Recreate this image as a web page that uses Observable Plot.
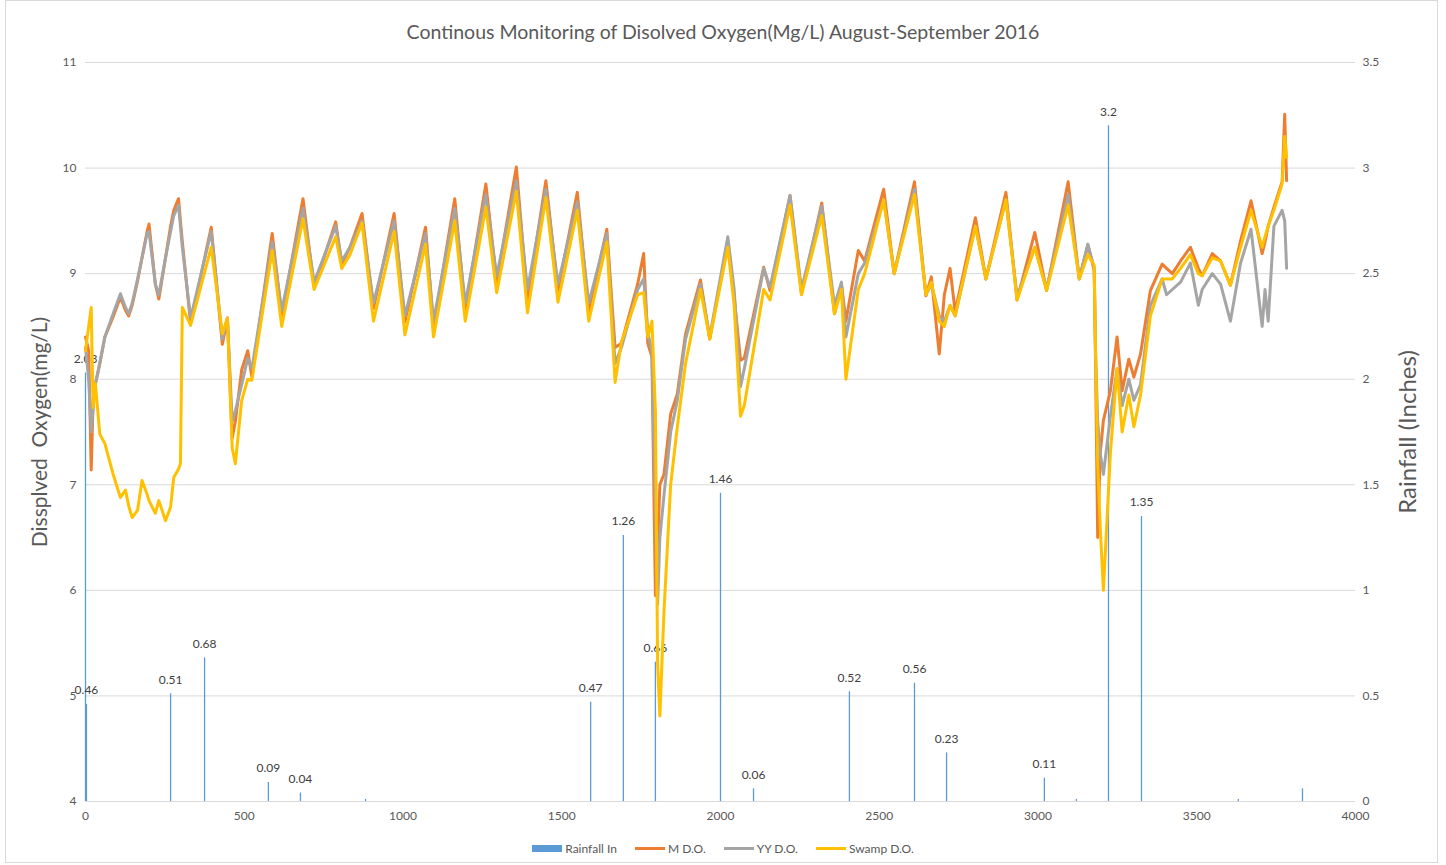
<!DOCTYPE html>
<html><head><meta charset="utf-8">
<script src="https://cdn.jsdelivr.net/npm/d3@7"></script>
<script src="https://cdn.jsdelivr.net/npm/@observablehq/plot@0.6"></script>
<style>
body{margin:0;background:#fff;font-family:Lato,"Open Sans",sans-serif;}
#wrap{position:relative;width:1446px;height:865px;overflow:hidden;background:#fff;}
#frame{position:absolute;left:5px;top:0;width:1433px;height:863px;border:1px solid #d9d9d9;box-sizing:border-box;}
#title{position:absolute;left:0;width:1446px;top:20px;text-align:center;font-size:19.5px;color:#595959;white-space:nowrap;}
#chart{position:absolute;left:0;top:50px;}
#legend{position:absolute;left:0;width:1446px;top:841px;display:flex;justify-content:center;align-items:center;font-size:12px;color:#595959;}
.item{display:flex;align-items:center;margin:0 9px;}
.sw{display:inline-block;width:30px;margin-right:3px;}
</style></head>
<body><div id="wrap"><div id="frame"></div>
<div id="title">Continous Monitoring of Disolved Oxygen(Mg/L) August-September 2016</div>
<div id="chart"></div>
<div id="legend"></div>
</div>
<script>
// ---- data ----
const xs = [0,10,18,24,31,45,61,87,110,126,
  136,147,164,178,194,200,220,231,252,268,
  278,293,299,305,331,396,431,447,462,472,
  492,511,524,588,618,685,720,788,807,833,
  871,907,972,1006,1071,1096,1163,1196,1261,1295,
  1357,1392,1450,1488,1549,1585,1642,1668,1688,1739,
  1758,1771,1784,1795,1802,1809,1822,1843,1864,1890,
  1937,1966,2023,2043,2063,2075,2136,2156,2219,2255,
  2319,2359,2381,2395,2434,2454,2514,2547,2611,2647,
  2664,2689,2705,2723,2739,2803,2836,2899,2934,2990,
  3027,3095,3130,3157,3177,3181,3188,3196,3206,3228,
  3249,3265,3286,3302,3323,3354,3391,3405,3423,3449,
  3480,3505,3517,3549,3575,3606,3638,3671,3706,3715,
  3725,3743,3769,3777,3783];
const mDO = [8.40,8.27,7.14,7.80,7.95,8.15,8.40,8.59,8.78,8.65,
  8.60,8.70,8.93,9.15,9.40,9.47,8.90,8.76,9.15,9.45,
  9.60,9.71,9.50,9.30,8.53,9.44,8.33,8.58,7.44,7.60,
  8.09,8.27,8.02,9.38,8.60,9.71,8.87,9.49,9.09,9.25,
  9.57,8.67,9.57,8.54,9.44,8.49,9.71,8.65,9.85,8.92,
  10.01,8.76,9.88,8.84,9.77,8.65,9.42,8.30,8.34,8.90,
  9.19,8.34,8.21,5.95,6.40,7.00,7.10,7.67,7.86,8.43,
  8.94,8.38,9.30,8.78,8.18,8.20,9.06,8.84,9.74,8.81,
  9.67,8.62,8.90,8.55,9.22,9.12,9.80,9.00,9.87,8.79,
  8.97,8.24,8.80,9.05,8.64,9.53,8.95,9.77,8.75,9.39,
  8.84,9.87,8.95,9.27,9.03,8.21,6.50,7.30,7.61,7.89,
  8.40,7.89,8.19,8.02,8.24,8.84,9.09,9.05,9.00,9.12,
  9.25,9.05,8.98,9.19,9.12,8.89,9.31,9.69,9.19,9.30,
  9.45,9.63,9.87,10.51,9.88];
const yyDO = [8.30,8.00,7.50,7.73,7.95,8.15,8.40,8.62,8.81,8.68,
  8.62,8.72,8.95,9.15,9.38,9.40,8.90,8.80,9.15,9.40,
  9.55,9.65,9.45,9.25,8.58,9.40,8.38,8.58,7.60,7.70,
  7.95,8.20,8.10,9.30,8.65,9.62,8.92,9.45,9.12,9.25,
  9.50,8.72,9.50,8.60,9.38,8.55,9.62,8.72,9.75,8.98,
  9.88,8.85,9.80,8.90,9.68,8.72,9.38,8.15,8.30,8.85,
  8.95,8.45,8.25,6.80,5.87,6.50,6.90,7.50,7.80,8.38,
  8.90,8.40,9.35,8.85,7.93,8.10,9.05,8.87,9.74,8.85,
  9.64,8.70,8.92,8.40,9.00,9.10,9.70,9.00,9.80,8.80,
  8.90,8.60,8.55,8.70,8.60,9.45,8.95,9.70,8.78,9.25,
  8.85,9.75,8.95,9.28,9.05,8.30,7.60,7.30,7.10,7.65,
  8.10,7.75,8.00,7.80,7.95,8.70,8.95,8.80,8.85,8.92,
  9.10,8.70,8.85,9.00,8.90,8.55,9.10,9.42,8.50,8.85,
  8.55,9.45,9.60,9.50,9.05];
const swampDO = [8.27,8.50,8.68,7.73,7.96,7.48,7.39,7.10,6.88,6.95,
  6.80,6.69,6.76,7.04,6.91,6.85,6.73,6.85,6.66,6.79,
  7.07,7.15,7.20,8.68,8.51,9.25,8.43,8.58,7.35,7.20,
  7.80,8.00,7.99,9.22,8.50,9.52,8.85,9.35,9.05,9.18,
  9.48,8.55,9.40,8.42,9.28,8.40,9.50,8.55,9.63,8.82,
  9.78,8.63,9.72,8.73,9.60,8.55,9.30,7.97,8.35,8.80,
  8.82,8.40,8.55,7.70,5.30,4.81,5.80,7.00,7.55,8.15,
  8.85,8.38,9.25,8.70,7.65,7.75,8.85,8.75,9.65,8.80,
  9.55,8.62,8.85,8.00,8.85,9.00,9.70,9.00,9.75,8.80,
  8.92,8.55,8.50,8.70,8.60,9.45,8.95,9.70,8.75,9.25,
  8.84,9.65,8.95,9.18,9.08,8.30,7.20,6.60,6.00,7.30,
  8.10,7.50,7.85,7.55,7.85,8.60,8.95,8.95,8.95,9.05,
  9.18,9.00,8.98,9.15,9.12,8.89,9.25,9.60,9.25,9.35,
  9.45,9.60,9.85,10.30,10.10];
const rainX = [0,3,268,375,576,677,882,1591,1694,1795,2000,2104,2406,2611,2712,3020,3121,3222,3326,3631,3833];
const rainIn = [2.03,0.46,0.51,0.68,0.09,0.04,0.01,0.47,1.26,0.66,1.46,0.06,0.52,0.56,0.23,0.11,0.01,3.2,1.35,0.01,0.06];
const rainLabels = ["2.03","0.46","0.51","0.68","0.09","0.04","","0.47","1.26","0.66","1.46","0.06","0.52","0.56","0.23","0.11","","3.2","1.35","",""];
const xTicks = [0,500,1000,1500,2000,2500,3000,3500,4000];
const leftTicks = [4,5,6,7,8,9,10,11];
const rightTicks = [0,0.5,1,1.5,2,2.5,3,3.5];
const seriesNames = ["Rainfall In","M D.O.","YY D.O.","Swamp D.O."];
const colors = ["#5b9bd5","#ed7d31","#a5a5a5","#ffc000"];

// ---- build ----
const rainToDO = d3.scaleLinear([0,3.5],[4,11]);
const rows = xs.map((x,i)=>({x, m:mDO[i], yy:yyDO[i], s:swampDO[i]}));
const rain = rainX.map((x,i)=>({x, r:rainIn[i], yv:rainToDO(rainIn[i]), label:rainLabels[i]}));

const chart = Plot.plot({
  width:1446, height:785, marginTop:12, marginBottom:34, marginLeft:85, marginRight:91,
  style:{fontFamily:"Lato, 'Open Sans', sans-serif", fontSize:"12px", color:"#595959", background:"transparent", overflow:"visible"},
  x:{domain:[0,4000]},
  y:{domain:[4,11]},
  marks:[
    Plot.gridY(leftTicks, {stroke:"#d9d9d9", strokeOpacity:1}),
    Plot.axisX(xTicks, {tickSize:0, tickPadding:10, label:null, fill:"#595959", tickFormat:d=>String(d)}),
    Plot.axisY(leftTicks, {anchor:"left", tickSize:0, tickPadding:9, label:null, fill:"#595959", tickFormat:d=>String(d)}),
    Plot.axisY(rightTicks.map(rainToDO), {anchor:"right", tickSize:0, tickPadding:7, label:null, fill:"#595959",
      tickFormat:(d,i)=>String(rightTicks[i])}),
    Plot.text(["Dissplved  Oxygen(mg/L)"], {frameAnchor:"left", textAnchor:"middle", dx:-45, rotate:-90, text:d=>d, fontSize:21, fill:"#595959"}),
    Plot.text(["Rainfall (Inches)"], {frameAnchor:"right", textAnchor:"middle", dx:53, rotate:-90, text:d=>d, fontSize:24, fill:"#595959"}),
    Plot.ruleX(rain, {x:"x", y1:4, y2:"yv", stroke:colors[0], strokeWidth:1.3}),
    Plot.text(rain.filter(d=>d.label), {x:"x", y:"yv", text:"label", dy:-14, fill:"#404040", fontSize:12}),
    Plot.line(rows, {x:"x", y:"m", stroke:colors[1], strokeWidth:3, strokeLinejoin:"round"}),
    Plot.line(rows, {x:"x", y:"yy", stroke:colors[2], strokeWidth:3, strokeLinejoin:"round"}),
    Plot.line(rows, {x:"x", y:"s", stroke:colors[3], strokeWidth:3, strokeLinejoin:"round"})
  ]
});
document.getElementById("chart").appendChild(chart);

const lg = document.getElementById("legend");
seriesNames.forEach((n,i)=>{
  const it = document.createElement("div"); it.className="item";
  const sw = document.createElement("span"); sw.className="sw";
  sw.style.height = i===0 ? "7px" : "3px"; sw.style.background = colors[i];
  const t = document.createElement("span"); t.textContent = n;
  it.appendChild(sw); it.appendChild(t); lg.appendChild(it);
});
</script></body></html>
